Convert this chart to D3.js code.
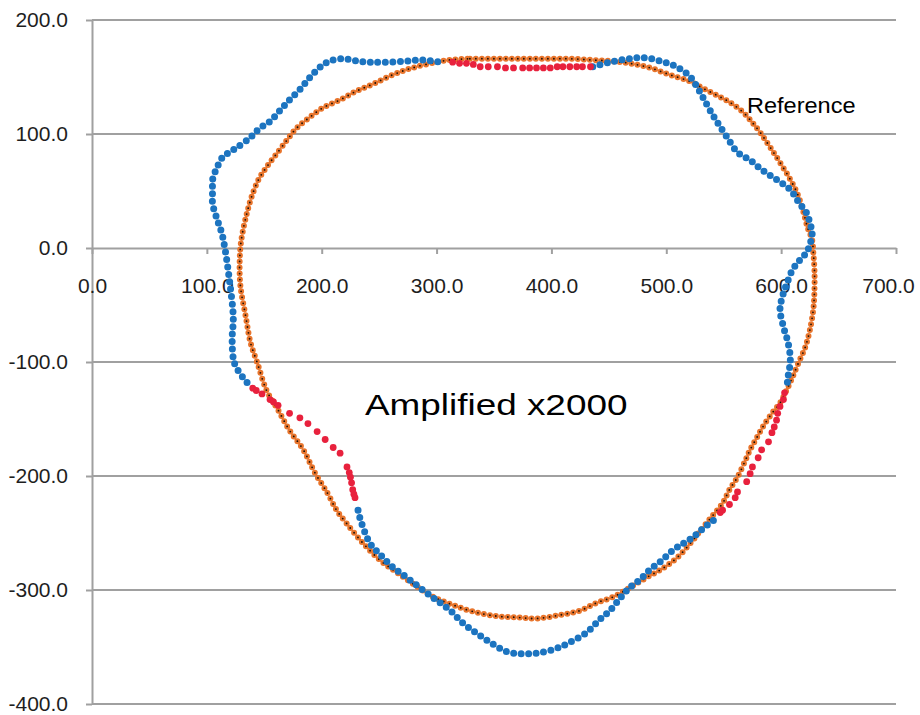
<!DOCTYPE html>
<html><head><meta charset="utf-8">
<script src="https://cdn.jsdelivr.net/npm/d3@7"></script>
<style>body{margin:0;background:#fff}svg{display:block}</style>
</head><body>
<svg id="c" width="920" height="715"></svg>
<script>
const xTicks=[0,100,200,300,400,500,600,700];
const yTicks=[200,100,0,-100,-200,-300,-400];

// Reference profile (orange, closed loop)
const reference=[[312,165],[329,166],[347,166],[364,166],[381,166],[399,166],[416,166],[434,165],[451,164],[468,162],[486,158],[503,152],[521,146],[532,140],[544,134],[555,128],[567,119],[575,110],[582,101],[590,89],[599,75],[608,60],[614,48],[619,33],[623,18],[627,7],[628,-4],[629,-19],[629,-37],[628,-54],[625,-72],[621,-87],[615,-101],[610,-113],[606,-122],[599,-136],[592,-145],[584,-157],[579,-166],[573,-177],[569,-186],[562,-201],[555,-212],[549,-224],[541,-234],[532,-245],[521,-259],[509,-272],[497,-281],[483,-289],[468,-298],[454,-306],[440,-311],[425,-318],[407,-322],[387,-325],[370,-324],[353,-323],[332,-319],[314,-313],[297,-306],[283,-297],[266,-285],[251,-274],[236,-259],[222,-242],[213,-230],[205,-215],[194,-197],[184,-177],[172,-160],[162,-142],[152,-125],[144,-101],[138,-83],[134,-61],[129,-31],[129,-2],[131,13],[135,31],[139,45],[145,60],[152,71],[161,83],[170,95],[178,105],[190,115],[201,123],[216,130],[231,138],[245,144],[262,152],[279,158],[300,163]];

// Measured profile (blue), split where points are out of tolerance
const measuredLeftTop=[[135,-118],[131,-113],[124,-101],[122,-81],[123,-61],[120,-31],[116,-2],[113,13],[109,25],[105,39],[105,51],[105,60],[109,71],[114,80],[123,86],[138,97],[146,105],[155,111],[164,121],[172,130],[181,139],[190,150],[199,159],[207,164],[219,166],[231,164],[242,163],[257,163],[274,164],[288,165],[303,163]];
const measuredRight=[[436,159],[451,163],[468,166],[480,167],[495,164],[509,159],[521,150],[527,141],[532,132],[538,121],[544,111],[553,97],[562,84],[573,77],[584,68],[596,60],[608,51],[616,39],[622,31],[625,22],[627,13],[625,3],[622,-4],[616,-11],[610,-19],[605,-31],[601,-43],[599,-54],[602,-69],[606,-83],[608,-98],[606,-113],[605,-122]];
const measuredBottom=[[541,-239],[532,-246],[523,-254],[515,-259],[506,-265],[495,-275],[486,-282],[477,-291],[468,-298],[460,-307],[451,-318],[442,-326],[431,-337],[416,-346],[405,-351],[390,-355],[375,-356],[361,-354],[347,-346],[335,-338],[323,-329],[312,-318],[300,-309],[288,-300],[274,-289],[262,-280],[251,-269],[242,-259],[236,-245],[233,-236],[231,-227]];

// Out-of-tolerance measured points (red)
const outTop=[[314,163],[320,162],[326,162],[332,161],[338,159],[345,159],[353,159],[360,158],[367,158],[375,158],[381,158],[387,158],[393,158],[399,158],[405,159],[410,159],[416,159],[422,159],[427,159],[434,159]];
const outRight=[[603,-127],[602,-133],[599,-139],[597,-145],[596,-151],[594,-157],[592,-162],[589,-170],[583,-177],[580,-184],[575,-192],[573,-198],[570,-205],[562,-214],[560,-219],[555,-225],[549,-230],[547,-232]];
const outLeft=[[140,-123],[143,-125],[148,-128],[155,-133],[158,-135],[162,-138],[172,-145],[181,-149],[188,-154],[196,-161],[203,-168],[210,-175],[216,-180],[222,-192],[224,-197],[225,-201],[226,-206],[227,-212],[228,-216],[229,-219]];

const svg=d3.select("#c");
const x=d3.scaleLinear().domain([0,700]).range([92,896]);
const y=d3.scaleLinear().domain([-400,200]).range([704,20]);
const fmt=d=>d.toFixed(1);
const FONT="'Liberation Sans', Arial, sans-serif";
const GRID="#a0a0a0";

// horizontal gridlines
svg.append("g").selectAll("line").data(yTicks.filter(d=>d!==0)).join("line")
  .attr("x1",x(0)).attr("x2",x(700)).attr("y1",d=>y(d)).attr("y2",d=>y(d))
  .attr("stroke",GRID).attr("stroke-width",2);

// y axis
const ya=svg.append("g").attr("transform",`translate(${x(0)},0)`)
  .call(d3.axisLeft(y).tickValues(yTicks).tickFormat(fmt).tickSize(6).tickSizeOuter(0).tickPadding(18));
// x axis at y=0
const xa=svg.append("g").attr("transform",`translate(0,${y(0)})`)
  .call(d3.axisBottom(x).tickValues(xTicks).tickFormat(fmt).tickSize(6).tickSizeOuter(0).tickPadding(24));
[ya,xa].forEach(g=>{
  g.select(".domain").attr("stroke",GRID).attr("stroke-width",2);
  g.selectAll(".tick line").attr("stroke",GRID).attr("stroke-width",2);
  g.selectAll(".tick text").attr("font-family",FONT).attr("font-size",21).attr("fill","#1e1e1e");
});
// keep the last x label inside the picture, as in the reference
xa.selectAll(".tick text").filter(d=>d===700).attr("dx",-8);

const lineClosed=d3.line().x(d=>x(d[0])).y(d=>y(d[1])).curve(d3.curveCatmullRomClosed);
const lineOpen=d3.line().x(d=>x(d[0])).y(d=>y(d[1])).curve(d3.curveCatmullRom);

// reference: orange dots with black centres
svg.append("path").attr("d",lineClosed(reference)).attr("fill","none")
  .attr("stroke","#e8752d").attr("stroke-width",6).attr("stroke-linecap","round").attr("stroke-dasharray","0 6");
svg.append("path").attr("d",lineClosed(reference)).attr("fill","none")
  .attr("stroke","#1a1008").attr("stroke-width",1.8).attr("stroke-linecap","round").attr("stroke-dasharray","0 6");

// measured: blue dots
[measuredLeftTop,measuredRight,measuredBottom].forEach(seg=>{
  svg.append("path").attr("d",lineOpen(seg)).attr("fill","none")
    .attr("stroke","#1c74c0").attr("stroke-width",7).attr("stroke-linecap","round").attr("stroke-dasharray","0 7.5");
});

// out of tolerance: red dots
svg.append("g").selectAll("circle").data(outTop.concat(outRight,outLeft)).join("circle")
  .attr("cx",d=>x(d[0])).attr("cy",d=>y(d[1])).attr("r",3.4).attr("fill","#e8213d");

// annotations
svg.append("text").attr("transform","translate(365,415) scale(1.23,1)")
  .attr("font-family",FONT).attr("font-size",30).attr("fill","#000").text("Amplified x2000");
svg.append("text").attr("transform","translate(747,113) scale(1.07,1)")
  .attr("font-family",FONT).attr("font-size",22).attr("fill","#000").text("Reference");
</script>
</body></html>
